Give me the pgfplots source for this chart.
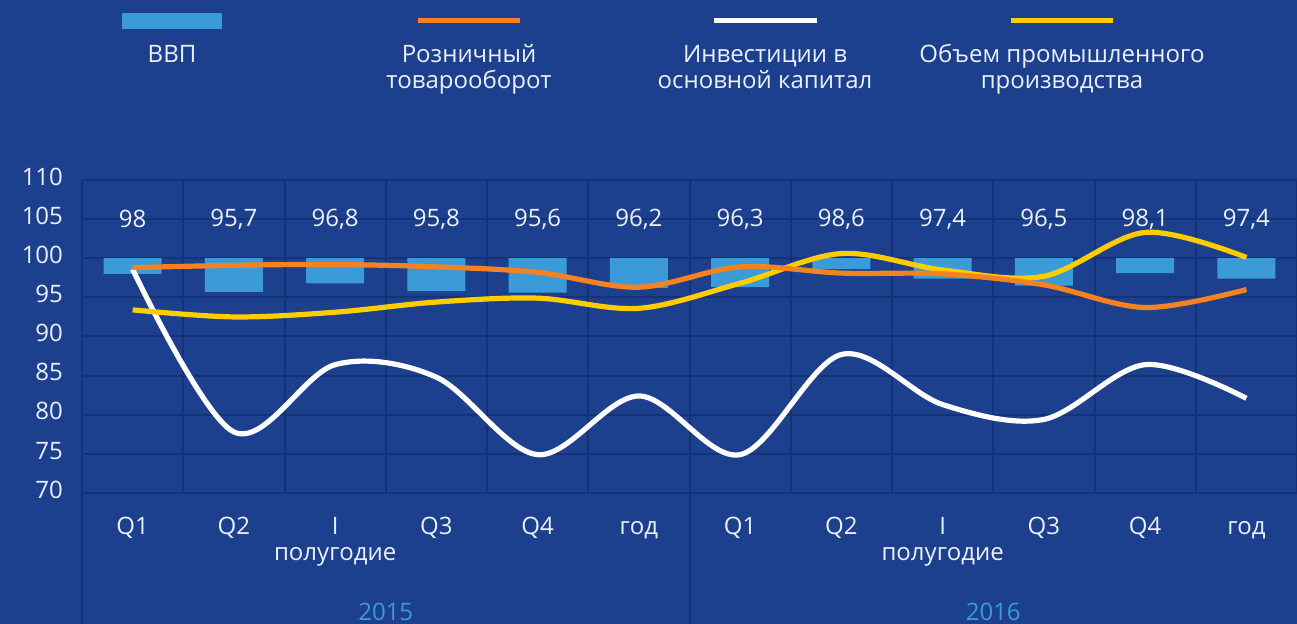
\documentclass[border=0pt]{standalone}
\usepackage{fontspec}
\setmainfont{Open Sans}
\usepackage{pgfplots}
\usepackage{pgfplotstable}
\pgfplotsset{compat=1.18}

\definecolor{bg}{RGB}{28,64,141}
\definecolor{gridc}{RGB}{22,50,118}
\definecolor{barc}{RGB}{58,155,216}
\definecolor{orangec}{RGB}{245,130,32}
\definecolor{yellowc}{RGB}{255,204,0}
\definecolor{txt}{RGB}{236,240,248}

% x: category index, gdp: bar value, lbl: printed value
\pgfplotstableread{
x  gdp   lbl   retail invest industry
0  98.0  98    98.8   98.6   93.4
1  95.7  95,7  99.1   77.8   92.5
2  96.8  96,8  99.2   86.4   93.1
3  95.8  95,8  98.9   84.8   94.4
4  95.6  95,6  98.2   74.9   94.9
5  96.2  96,2  96.3   82.4   93.6
6  96.3  96,3  98.9   74.9   96.8
7  98.6  98,6  98.1   87.7  100.6
8  97.4  97,4  98.0   81.3   98.5
9  96.5  96,5  96.6   79.4   97.7
10 98.1  98,1  93.7   86.4  103.3
11 97.4  97,4  96.0   82.1  100.1
}\data

\pgfplotsset{
  frame/.style={
    at={(41pt,65.5pt)}, anchor=south west,
    width=607.5pt, height=156.5pt, scale only axis,
    xmin=-0.5, xmax=11.5, ymin=70, ymax=110,
  },
}

\begin{document}
\begin{tikzpicture}[font=\fontsize{12}{13}\selectfont]
\fill[bg] (0,0) rectangle (648.5pt,312pt);
\useasboundingbox (0,0) rectangle (648.5pt,312pt);
\clip (0,0) rectangle (648.5pt,312pt);

\begin{axis}[
  frame,
  axis line style={draw=none},
  tick style={draw=none},
  major tick length=0pt,
  ytick={70,75,...,110},
  xtick={0,...,11},
  xticklabels={Q1,Q2,I\\полугодие,Q3,Q4,год,Q1,Q2,I\\полугодие,Q3,Q4,год},
  typeset ticklabels with strut,
  xticklabel style={align=center, text=txt, anchor=north, yshift=-8pt},
  yticklabel style={text=txt, xshift=-6pt},
  /pgf/number format/assume math mode=true,
  minor xtick={-0.5,0.5,...,11.5},
  xminorgrids, ymajorgrids,
  major grid style={gridc, line width=1pt},
  minor grid style={gridc, line width=1pt},
  ybar stacked,
  bar width=29pt,
]
\addplot[draw=none, fill=none] table[x=x, y=gdp] {\data};
\addplot[draw=none, fill=barc] table[x=x, y expr=100-\thisrow{gdp}] {\data};
\end{axis}

\begin{axis}[
  frame,
  hide axis,
  clip=false,
]
\draw[gridc, line width=1pt] (axis cs:-0.5,70) -- (axis cs:-0.5,50);
\draw[gridc, line width=1pt] (axis cs:5.5,70) -- (axis cs:5.5,50);
\node[text=barc] at (axis cs:2.5,54.8) {2015};
\node[text=barc] at (axis cs:8.5,54.8) {2016};

\addplot[white, line width=2.6pt, smooth, tension=0.55] table[x=x, y=invest] {\data};
\addplot[yellowc, line width=2.6pt, smooth, tension=0.55] table[x=x, y=industry] {\data};
\addplot[orangec, line width=2.6pt, smooth, tension=0.55] table[x=x, y=retail] {\data};

\addplot[draw=none, mark=none, point meta=explicit symbolic,
  nodes near coords,
  every node near coord/.append style={anchor=center, text=txt}]
  table[x=x, y expr=105, meta=lbl] {\data};
\end{axis}

% legend
\fill[barc] (61pt,297.5pt) rectangle (111pt,305.5pt);
\draw[orangec, line width=2.5pt] (209pt,301.75pt) -- (260pt,301.75pt);
\draw[white, line width=2.5pt] (357pt,301.75pt) -- (408.5pt,301.75pt);
\draw[yellowc, line width=2.5pt] (505.5pt,301.75pt) -- (556.5pt,301.75pt);
\node[text=txt, align=center, anchor=base] at (86pt,280.75pt) {ВВП};
\node[text=txt, align=center, anchor=base] at (234.5pt,267.75pt) {Розничный\\товарооборот};
\node[text=txt, align=center, anchor=base] at (382.5pt,267.75pt) {Инвестиции в\\основной капитал};
\node[text=txt, align=center, anchor=base] at (531pt,267.75pt) {Объем промышленного\\производства};
\end{tikzpicture}
\end{document}
